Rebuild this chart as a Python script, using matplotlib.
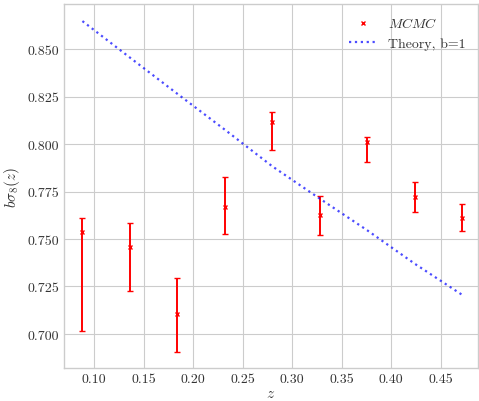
import numpy as np
import matplotlib
matplotlib.use('Agg')
import matplotlib.pyplot as plt

# ── data ─────────────────────────────────────────────
z_bins   = [0.088, 0.136, 0.184, 0.232, 0.280, 0.328, 0.376, 0.424, 0.472]
bs8_mcmc = [0.7535, 0.7458, 0.7104, 0.7668, 0.8118, 0.7626, 0.8009, 0.7721, 0.7612]
err_lo   = [0.0518, 0.0233, 0.0199, 0.0140, 0.0150, 0.0103, 0.0105, 0.0080, 0.0070]
err_hi   = [0.0077, 0.0128, 0.0192, 0.0157, 0.0052, 0.0100, 0.0026, 0.0079, 0.0074]
theory   = [0.8647, 0.8455, 0.8264, 0.8075, 0.7882, 0.7712, 0.7545, 0.7369, 0.7205]

# ── style ────────────────────────────────────────────
plt.style.use('seaborn-v0_8-whitegrid')
plt.rcParams['font.family']      = 'serif'
plt.rcParams['font.serif']       = ['cmr10', 'DejaVu Serif']
plt.rcParams['mathtext.fontset'] = 'cm'
plt.rcParams['axes.formatter.use_mathtext'] = True
plt.rcParams['axes.unicode_minus'] = False

fig = plt.figure(figsize=(4.79, 4.02), dpi=100)
ax = fig.add_axes([64 / 479, 33 / 402, 414 / 479, 364 / 402])

ax.plot(z_bins, bs8_mcmc, 'x', color='red', markersize=3.5, mew=1.0,
        label=r'$MCMC$')
ax.errorbar(z_bins, bs8_mcmc, yerr=[err_lo, err_hi], fmt='none',
            ecolor='red', capsize=2, elinewidth=1.4, capthick=1.0)
ax.plot(z_bins, theory, ':', color='blue', alpha=0.7, lw=1.6,
        label='Theory, b=1')

ax.set_xlim(0.0694, 0.4877)
ax.set_ylim(0.6821, 0.8737)
ax.set_xticks([0.10, 0.15, 0.20, 0.25, 0.30, 0.35, 0.40, 0.45])
ax.set_yticks([0.700, 0.725, 0.750, 0.775, 0.800, 0.825, 0.850])
ax.set_xticklabels([f'{v:.2f}' for v in ax.get_xticks()])
ax.set_yticklabels([f'{v:.3f}' for v in ax.get_yticks()])
ax.tick_params(labelsize=10, colors='#333333')
ax.set_xlabel(r'$z$', fontsize=11, color='#333333', labelpad=1)
ax.set_ylabel(r'$b\sigma_8(z)$', fontsize=11, color='#333333')
for sp in ax.spines.values():
    sp.set_visible(True)
    sp.set_color('#cccccc')

leg = ax.legend(loc='upper right', fontsize=10, frameon=False)
for t in leg.get_texts():
    t.set_color('#333333')

fig.savefig('out.png', dpi=100)
